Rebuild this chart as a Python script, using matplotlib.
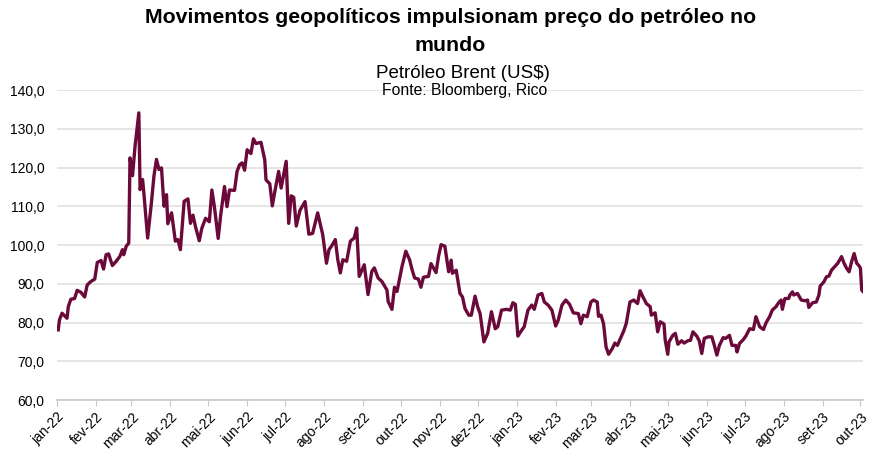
import matplotlib
matplotlib.use("Agg")
import matplotlib.pyplot as plt
import pandas as pd

plt.rcParams['font.family'] = ['Liberation Sans', 'DejaVu Sans']

# Brent (US$)
dates_2022 = [
    "2022-01-02", "2022-01-03", "2022-01-05", "2022-01-09", "2022-01-10", "2022-01-12",
    "2022-01-15", "2022-01-17", "2022-01-20", "2022-01-23", "2022-01-25", "2022-01-28",
    "2022-01-31", "2022-02-02", "2022-02-05", "2022-02-07", "2022-02-09", "2022-02-11",
    "2022-02-14", "2022-02-17", "2022-02-20", "2022-02-22", "2022-02-23", "2022-02-25",
    "2022-02-27", "2022-02-28", "2022-03-02", "2022-03-04", "2022-03-07", "2022-03-08",
    "2022-03-10", "2022-03-11", "2022-03-14", "2022-03-17", "2022-03-19", "2022-03-21",
    "2022-03-23", "2022-03-25", "2022-03-27", "2022-03-29", "2022-03-30", "2022-04-02",
    "2022-04-05", "2022-04-07", "2022-04-09", "2022-04-12", "2022-04-15", "2022-04-17",
    "2022-04-19", "2022-04-21", "2022-04-24", "2022-04-26", "2022-04-29", "2022-05-02",
    "2022-05-04", "2022-05-06", "2022-05-09", "2022-05-11", "2022-05-14", "2022-05-16",
    "2022-05-18", "2022-05-22", "2022-05-24", "2022-05-26", "2022-05-28", "2022-05-30",
    "2022-06-01", "2022-06-04", "2022-06-06", "2022-06-08", "2022-06-12", "2022-06-15",
    "2022-06-16", "2022-06-19", "2022-06-21", "2022-06-23", "2022-06-26", "2022-06-28",
    "2022-07-02", "2022-07-04", "2022-07-06", "2022-07-08", "2022-07-10", "2022-07-13",
    "2022-07-17", "2022-07-20", "2022-07-23", "2022-07-27", "2022-07-31", "2022-08-03",
    "2022-08-05", "2022-08-07", "2022-08-10", "2022-08-12", "2022-08-14", "2022-08-16",
    "2022-08-19", "2022-08-22", "2022-08-25", "2022-08-27", "2022-08-29", "2022-09-02",
    "2022-09-05", "2022-09-08", "2022-09-10", "2022-09-13", "2022-09-16", "2022-09-20",
    "2022-09-21", "2022-09-24", "2022-09-26", "2022-09-28", "2022-10-02", "2022-10-05",
    "2022-10-08", "2022-10-10", "2022-10-12", "2022-10-15", "2022-10-17", "2022-10-19",
    "2022-10-23", "2022-10-25", "2022-10-29", "2022-10-31", "2022-11-02", "2022-11-05",
    "2022-11-08", "2022-11-10", "2022-11-11", "2022-11-14", "2022-11-17", "2022-11-19",
    "2022-11-21", "2022-11-24", "2022-11-26", "2022-11-29", "2022-12-01", "2022-12-03",
    "2022-12-06", "2022-12-09", "2022-12-12", "2022-12-15", "2022-12-17", "2022-12-20",
    "2022-12-24", "2022-12-27", "2022-12-29", "2022-12-31",
]
brent_2022 = [
    78.1, 80.7, 82.4, 81.1, 84.1, 86.0,
    86.2, 88.3, 87.8, 86.6, 89.7, 90.6,
    91.2, 95.5, 96.0, 93.8, 97.5, 97.7,
    94.7, 95.8, 97.1, 98.8, 97.5, 99.7,
    100.5, 122.5, 117.9, 125.5, 134.1, 114.3,
    116.9, 113.4, 101.8, 110.9, 117.8, 122.1,
    119.5, 119.9, 110.0, 113.0, 105.5, 108.3,
    101.0, 101.4, 98.8, 111.3, 111.9, 105.6,
    107.7, 104.7, 101.1, 104.3, 106.9, 106.0,
    114.2, 109.9, 101.7, 107.7, 115.1, 109.9,
    114.2, 114.1, 119.0, 120.7, 121.2, 119.3,
    124.6, 123.6, 127.4, 126.2, 126.5, 122.0,
    116.8, 115.8, 110.1, 113.8, 119.0, 114.7,
    121.6, 105.6, 112.7, 112.3, 104.9, 109.0,
    111.2, 102.8, 103.0, 108.3, 102.7, 95.3,
    98.8, 99.7, 101.4, 96.2, 92.8, 96.2,
    95.8, 101.0, 101.8, 104.4, 91.9, 94.9,
    87.2, 93.2, 94.1, 91.5, 90.6, 88.4,
    85.4, 83.4, 89.1, 88.0, 94.5, 98.4,
    96.2, 93.6, 91.5, 91.2, 89.1, 91.7,
    91.9, 95.2, 92.9, 97.1, 100.1, 99.7,
    93.1, 96.1, 92.7, 93.5, 87.5, 86.6,
    83.6, 81.9, 81.9, 86.8, 84.1, 82.3,
    75.0, 77.2, 82.8, 78.4, 78.9, 83.2,
    83.4, 83.2, 85.1, 84.7,
]
dates_2023 = [
    "2023-01-02", "2023-01-05", "2023-01-07", "2023-01-10", "2023-01-13", "2023-01-15",
    "2023-01-18", "2023-01-21", "2023-01-23", "2023-01-26", "2023-01-29", "2023-02-01",
    "2023-02-03", "2023-02-06", "2023-02-09", "2023-02-12", "2023-02-15", "2023-02-19",
    "2023-02-21", "2023-02-23", "2023-02-26", "2023-03-01", "2023-03-03", "2023-03-06",
    "2023-03-07", "2023-03-09", "2023-03-11", "2023-03-13", "2023-03-15", "2023-03-18",
    "2023-03-20", "2023-03-22", "2023-03-25", "2023-03-27", "2023-03-29", "2023-04-01",
    "2023-04-04", "2023-04-07", "2023-04-09", "2023-04-11", "2023-04-14", "2023-04-17",
    "2023-04-18", "2023-04-21", "2023-04-23", "2023-04-25", "2023-04-28", "2023-04-29",
    "2023-05-01", "2023-05-02", "2023-05-05", "2023-05-07", "2023-05-09", "2023-05-12",
    "2023-05-14", "2023-05-17", "2023-05-19", "2023-05-21", "2023-05-24", "2023-05-26",
    "2023-05-28", "2023-05-30", "2023-06-02", "2023-06-05", "2023-06-07", "2023-06-09",
    "2023-06-11", "2023-06-14", "2023-06-16", "2023-06-19", "2023-06-21", "2023-06-24",
    "2023-06-25", "2023-06-27", "2023-06-30", "2023-07-02", "2023-07-05", "2023-07-08",
    "2023-07-10", "2023-07-13", "2023-07-16", "2023-07-18", "2023-07-21", "2023-07-23",
    "2023-07-26", "2023-07-28", "2023-07-30", "2023-07-31", "2023-08-02", "2023-08-05",
    "2023-08-06", "2023-08-08", "2023-08-09", "2023-08-12", "2023-08-15", "2023-08-18",
    "2023-08-20", "2023-08-21", "2023-08-24", "2023-08-27", "2023-08-29", "2023-08-30",
    "2023-09-02", "2023-09-04", "2023-09-06", "2023-09-08", "2023-09-11", "2023-09-13",
    "2023-09-16", "2023-09-18", "2023-09-20", "2023-09-22", "2023-09-24", "2023-09-26",
    "2023-09-28", "2023-09-30", "2023-10-01", "2023-10-02", "2023-10-03",
]
brent_2023 = [
    76.5, 78.0, 78.9, 83.2, 84.5, 83.4,
    87.1, 87.5, 85.3, 84.5, 83.2, 79.1,
    80.6, 84.5, 85.8, 84.7, 82.5, 82.3,
    79.7, 81.9, 81.5, 85.3, 85.8, 85.3,
    81.6, 81.9, 79.7, 73.7, 71.8, 73.3,
    74.7, 74.1, 76.3, 77.8, 79.7, 85.3,
    85.8, 84.9, 88.2, 86.8, 84.9, 84.1,
    81.9, 82.5, 77.6, 80.2, 79.6, 75.4,
    71.8, 75.0, 76.7, 77.2, 74.4, 75.3,
    74.7, 75.3, 75.4, 77.6, 76.5, 75.3,
    72.0, 75.9, 76.3, 76.3, 74.1, 71.6,
    74.1, 76.1, 75.9, 76.7, 74.1, 74.1,
    72.4, 74.6, 75.6, 76.5, 78.4, 78.2,
    81.5, 78.9, 78.2, 79.9, 81.6, 83.2,
    84.1, 85.1, 85.8, 83.4, 86.2, 86.2,
    87.1, 87.9, 87.1, 87.5, 85.8, 85.6,
    85.8, 83.9, 85.1, 85.3, 87.1, 89.4,
    90.5, 91.8, 92.0, 93.5, 94.6, 95.3,
    97.0, 95.3, 94.0, 93.1, 95.7, 97.8,
    95.3, 94.6, 94.0, 88.4, 88.0,
]
month_labels = [
    "jan-22", "fev-22", "mar-22", "abr-22", "mai-22", "jun-22", "jul-22", "ago-22",
    "set-22", "out-22", "nov-22", "dez-22", "jan-23", "fev-23", "mar-23", "abr-23",
    "mai-23", "jun-23", "jul-23", "ago-23", "set-23", "out-23",
]
y_ticks = [60, 70, 80, 90, 100, 110, 120, 130, 140]

dates = pd.to_datetime(dates_2022 + dates_2023)
brent = brent_2022 + brent_2023

fig = plt.figure(figsize=(8.86, 4.66), dpi=100)
ax = fig.add_axes([0.0643, 0.1416, 0.9097, 0.6652])

ax.plot(dates, brent, color="#6b0a3a", lw=2.4, solid_joinstyle="round")

ax.set_ylim(60, 140)
ax.set_yticks(y_ticks)
ax.set_yticklabels([f"{v:.1f}".replace(".", ",") for v in y_ticks])
ax.yaxis.grid(True, color="#e3e3e3", lw=1.3)
ax.set_axisbelow(True)

month_starts = pd.date_range("2022-01-01", "2023-10-01", freq="MS")
ax.set_xticks(month_starts)
ax.set_xticklabels(month_labels, rotation=45, ha="right", va="top", rotation_mode="anchor")
ax.set_xlim(pd.Timestamp("2022-01-01"), pd.Timestamp("2023-10-03"))

for s in ["left", "top", "right"]:
    ax.spines[s].set_visible(False)
ax.spines["bottom"].set_color("#c8c8c8")
ax.spines["bottom"].set_linewidth(1.2)
ax.tick_params(axis="x", direction="out", length=4, color="#c8c8c8", labelsize=10, pad=3)
ax.tick_params(axis="y", length=0, labelsize=10, pad=9)

fig.text(0.508, 0.962, "Movimentos geopolíticos impulsionam preço do petróleo no",
         ha="center", va="center", fontsize=15.3, fontweight="bold")
fig.text(0.508, 0.902, "mundo", ha="center", va="center", fontsize=15.3, fontweight="bold")
fig.text(0.523, 0.843, "Petróleo Brent (US$)", ha="center", va="center", fontsize=13.5)
fig.text(0.524, 0.805, "Fonte: Bloomberg, Rico", ha="center", va="center", fontsize=11.3)

fig.savefig("out.png", dpi=100, facecolor="white")
